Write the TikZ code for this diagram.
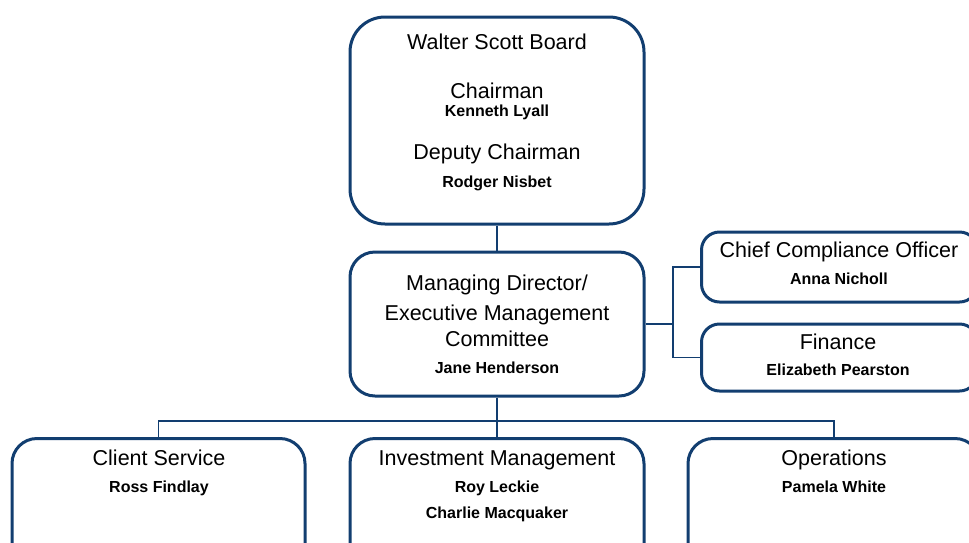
\documentclass[tikz,border=0pt]{standalone}
\usepackage{fontspec}
\setmainfont{Liberation Sans}
\definecolor{navy}{RGB}{18,62,112}
\tikzset{
	unit/.style={draw=navy, line width=3pt, fill=white, inner sep=0pt},
	link/.style={draw=navy, line width=1.5pt},
	role/.style={inner sep=0pt, text height=15.5pt, text depth=0pt, font=\fontsize{21.5}{24}\selectfont},
	person/.style={inner sep=0pt, text height=11.5pt, text depth=0pt, font=\bfseries\fontsize{16}{18}\selectfont}
}
\begin{document}
\begin{tikzpicture}[x=1pt, y=-1pt]
		\useasboundingbox (0,0) rectangle (969,542);
		\clip (0,0) rectangle (969,542);
		% boxes
		\node[unit, rounded corners=35pt, minimum width=294pt, minimum height=207pt] (board) at (497,120.5) {};
		\node[unit, rounded corners=25pt, minimum width=294pt, minimum height=144pt] (md) at (497,324) {};
		\node[unit, rounded corners=18pt, minimum width=276pt, minimum height=70pt, anchor=west] (cco) at (700,267) {};
		\node[unit, rounded corners=18pt, minimum width=276pt, minimum height=67pt, anchor=west] (fin) at (700,357.5) {};
		\node[unit, rounded corners=25pt, minimum width=293pt, minimum height=130pt, anchor=north] (cs) at (158.5,437) {};
		\node[unit, rounded corners=25pt, minimum width=294pt, minimum height=130pt, anchor=north] (im) at (497,437) {};
		\node[unit, rounded corners=25pt, minimum width=292pt, minimum height=130pt, anchor=north] (ops) at (834,437) {};
		% connectors
		\coordinate (split) at (673,324);
		\coordinate (bus) at (497,421);
		\draw[link] (board.south) -- (md.north);
		\draw[link] (md.east) -- (split);
		\draw[link] (split) |- (cco.west);
		\draw[link] (split) |- (fin.west);
		\draw[link] (md.south) -- (bus);
		\draw[link] (bus) -| (cs.north);
		\draw[link] (bus) -| (ops.north);
		\draw[link] (bus) -- (im.north);
		% texts
		\node[role] (t1) at (497,42) {Walter Scott Board};
		\node[role] (t2) at (497,91) {Chairman};
		\node[person] (n2) at (497,111) {Kenneth Lyall};
		\node[role] (t3) at (497,152) {Deputy Chairman};
		\node[person] (n3) at (497,182) {Rodger Nisbet};
		\node[role] (t4) at (497,283) {Managing Director/};
		\node[role] (t5) at (497,313) {Executive Management};
		\node[role] (t6) at (497,339) {Committee};
		\node[person] (n4) at (497,368) {Jane Henderson};
		\node[role] (t7) at (839,250) {Chief Compliance Officer};
		\node[person] (n7) at (839,279) {Anna Nicholl};
		\node[role] (t8) at (838,342) {Finance};
		\node[person] (n8) at (838,370) {Elizabeth Pearston};
		\node[role] (t9) at (159,458) {Client Service};
		\node[person] (n9) at (159,487) {Ross Findlay};
		\node[role] (t10) at (497,458) {Investment Management};
		\node[person] (n10) at (497,487) {Roy Leckie};
		\node[person] (n11) at (497,513) {Charlie Macquaker};
		\node[role] (t12) at (834,458) {Operations};
		\node[person] (n12) at (834,487) {Pamela White};
		\end{tikzpicture}
\end{document}
